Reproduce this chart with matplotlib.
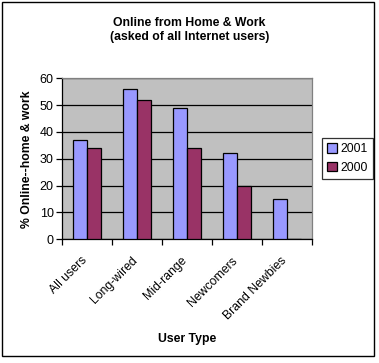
import numpy as np
import matplotlib
matplotlib.use("Agg")
import matplotlib.pyplot as plt
import matplotlib.transforms as mtransforms
from matplotlib.patches import Rectangle

plt.rcParams['font.family'] = ['Liberation Sans', 'DejaVu Sans']

categories = ["All users", "Long-wired", "Mid-range", "Newcomers", "Brand Newbies"]
vals_2001 = [37, 56, 49, 32, 15]
vals_2000 = [34, 52, 34, 20, 0]
series_labels = ["2001", "2000"]
y_ticks = [0, 10, 20, 30, 40, 50, 60]

fig = plt.figure(figsize=(3.79, 3.63), dpi=100)
W, H = 379, 363
ax = fig.add_axes([62 / W, 1 - 239.3 / H, 250 / W, 161 / H])
ax.set_facecolor("#C0C0C0")

x = np.arange(len(categories))
bw = 0.2857
ax.bar(x - bw / 2, vals_2001, bw, color="#9999FF", edgecolor="black", linewidth=0.9,
       label=series_labels[0], zorder=3)
ax.bar(x + bw / 2, vals_2000, bw, color="#993366", edgecolor="black", linewidth=0.9,
       label=series_labels[1], zorder=3)

ax.set_xlim(-0.5, len(categories) - 0.5)
ax.set_ylim(0, 60)
ax.set_yticks(y_ticks)
ax.yaxis.grid(True, color="black", linewidth=0.9, zorder=1)
ax.set_axisbelow(True)

# category ticks at boundaries, labels at centres
ax.set_xticks(np.arange(-0.5, len(categories)), minor=False)
ax.set_xticklabels([])
ax.set_xticks(x, minor=True)
ax.set_xticklabels(categories, minor=True, rotation=45, ha="right", va="top",
                   rotation_mode="anchor", fontsize=8.8)
ax.tick_params(axis="x", which="minor", length=0, pad=6)
ax.tick_params(axis="x", which="major", length=4, width=0.9, direction="out")
ax.tick_params(axis="y", length=4, width=0.9, direction="out", labelsize=9, pad=2)
shift = mtransforms.ScaledTranslation(-6 / 100, -7 / 100, fig.dpi_scale_trans)
for lab in ax.get_xticklabels(minor=True):
    lab.set_transform(lab.get_transform() + shift)

for side in ["top", "right"]:
    ax.spines[side].set_color("#808080")
    ax.spines[side].set_linewidth(0.9)
for side in ["left", "bottom"]:
    ax.spines[side].set_color("black")
    ax.spines[side].set_linewidth(0.9)

ax.set_ylabel("% Online--home & work", fontsize=8.8, fontweight="bold")
ax.yaxis.set_label_coords(-(62 - 33) / 250, 0.5)
ax.set_xlabel("User Type", fontsize=8.8, fontweight="bold")
ax.xaxis.set_label_coords(0.5, -(333 - 239.3) / 161)

fig.text(0.5, 1 - 30 / H, "Online from Home & Work\n(asked of all Internet users)",
         ha="center", va="center", fontsize=8.8, fontweight="bold", linespacing=1.15)

leg = fig.legend(loc="center", bbox_to_anchor=(347.5 / W, 1 - 158.5 / H), fontsize=8.8,
                 frameon=True, fancybox=False, handlelength=0.8, handleheight=0.8,
                 handletextpad=0.25, borderpad=0.45, labelspacing=0.55, borderaxespad=0)
leg.get_frame().set_edgecolor("black")
leg.get_frame().set_linewidth(0.9)

fig.patches.append(Rectangle((2 / W, 1 - 356 / H), 372 / W, 354 / H, transform=fig.transFigure,
                             fill=False, edgecolor="black", linewidth=1.0))

fig.savefig("out.png", dpi=100)
